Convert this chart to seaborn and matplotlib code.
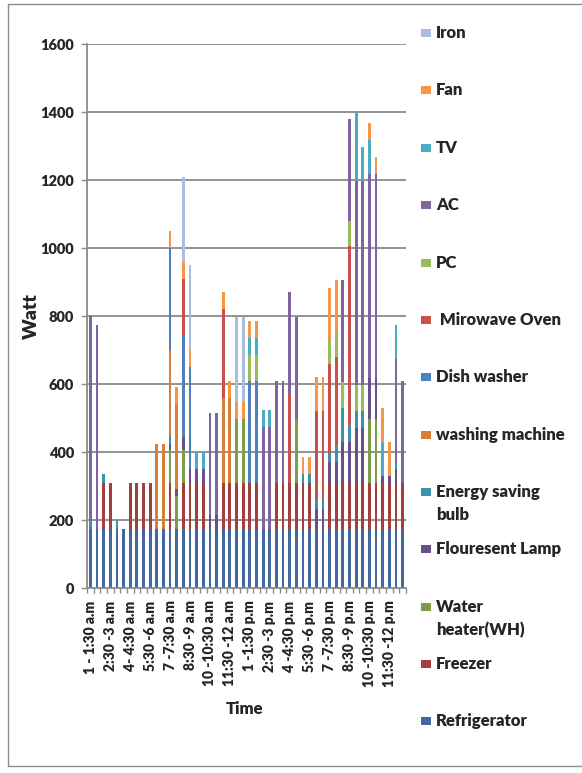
import numpy as np
import pandas as pd
import matplotlib
matplotlib.use("Agg")
import matplotlib.pyplot as plt
import seaborn as sns
from matplotlib.patches import Rectangle
from matplotlib.lines import Line2D

# ---------------- data (48 half-hour slots, Watt) ----------------
slots = list(range(48))
tick_labels = ["1 - 1:30 a.m", "2:30 -3 a.m", "4- 4:30 a.m", "5:30 -6 a.m",
               "7 -7:30 a.m", "8:30 -9 a.m", "10 -10:30 a.m", "11:30 -12 a.m",
               "1 -1:30 p.m", "2:30 -3 p.m", "4 -4:30 p.m", "5:30 -6 p.m",
               "7 -7:30 p.m", "8:30 -9 p.m", "10 -10:30 p.m", "11:30 -12 p.m"]

refrigerator = [175, 175, 175, 175, 175, 175, 175, 175, 175, 175, 175, 175,
                175, 175, 175, 175, 175, 175, 175, 175, 175, 175, 175, 175,
                175, 175, 175, 175, 175, 175, 175, 175, 175, 175, 175, 175,
                175, 175, 175, 175, 175, 175, 175, 175, 175, 175, 175, 175]
freezer = [0, 0, 135, 135, 0, 0, 135, 135, 135, 135, 0, 0,
           135, 0, 135, 135, 135, 135, 0, 0, 135, 135, 135, 135,
           135, 135, 0, 0, 135, 135, 135, 135, 135, 135, 0, 0,
           135, 135, 135, 135, 135, 135, 135, 135, 135, 135, 135, 135]
water_heater = [0, 0, 0, 0, 0, 0, 0, 0, 0, 0, 0, 0,
                95, 95, 95, 0, 0, 0, 0, 0, 0, 0, 188, 188,
                0, 0, 0, 0, 0, 0, 0, 188, 0, 0, 0, 0,
                0, 0, 0, 0, 0, 0, 188, 188, 0, 0, 0, 0]
fluorescent = [0, 0, 0, 0, 0, 0, 0, 0, 0, 0, 0, 0,
               20, 20, 40, 40, 40, 40, 40, 40, 0, 0, 0, 0,
               0, 0, 0, 0, 0, 0, 0, 0, 0, 0, 58, 58,
               60, 60, 120, 120, 160, 160, 120, 120, 20, 20, 40, 0]
energy_bulb = [25, 0, 25, 0, 25, 0, 0, 0, 0, 0, 0, 0,
               25, 0, 0, 0, 0, 0, 0, 0, 0, 0, 0, 0,
               0, 0, 0, 0, 0, 0, 0, 0, 25, 25, 25, 25,
               25, 50, 100, 50, 50, 50, 0, 0, 0, 0, 25, 0]
washing = [0, 0, 0, 0, 0, 0, 0, 0, 0, 0, 250, 250,
           250, 250, 0, 0, 0, 0, 0, 0, 250, 250, 0, 0,
           0, 0, 0, 0, 0, 0, 0, 0, 0, 0, 0, 0,
           0, 0, 0, 0, 0, 0, 0, 0, 0, 0, 0, 0]
dish_washer = [0, 0, 0, 0, 0, 0, 0, 0, 0, 0, 0, 0,
               300, 0, 300, 300, 0, 0, 0, 0, 0, 0, 0, 0,
               300, 300, 0, 0, 0, 0, 0, 0, 0, 0, 0, 0,
               0, 0, 0, 0, 0, 0, 0, 0, 0, 0, 0, 0]
microwave = [0, 0, 0, 0, 0, 0, 0, 0, 0, 0, 0, 0,
             0, 0, 165, 0, 0, 0, 0, 0, 262, 0, 0, 0,
             0, 0, 0, 0, 0, 0, 262, 0, 0, 0, 262, 262,
             263, 260, 0, 525, 0, 0, 0, 0, 0, 0, 0, 0]
pc = [0, 0, 0, 0, 0, 0, 0, 0, 0, 0, 0, 0,
      0, 0, 0, 0, 0, 0, 0, 0, 0, 0, 0, 0,
      75, 75, 0, 0, 0, 0, 0, 0, 0, 0, 0, 0,
      75, 77, 77, 75, 77, 77, 0, 0, 0, 0, 0, 0]
ac = [600, 600, 0, 0, 0, 0, 0, 0, 0, 0, 0, 0,
      0, 0, 0, 0, 0, 0, 300, 300, 0, 0, 0, 0,
      0, 0, 300, 300, 300, 300, 300, 300, 0, 0, 0, 0,
      0, 0, 300, 300, 600, 600, 600, 600, 0, 0, 300, 300]
tv = [0, 0, 0, 0, 0, 0, 0, 0, 0, 0, 0, 0,
      0, 0, 0, 0, 50, 50, 0, 0, 0, 0, 0, 0,
      50, 50, 50, 50, 0, 0, 0, 0, 0, 0, 0, 0,
      0, 0, 0, 0, 200, 100, 100, 0, 100, 0, 100, 0]
fan = [0, 0, 0, 0, 0, 0, 0, 0, 0, 0, 0, 0,
       50, 50, 50, 50, 0, 0, 0, 0, 50, 50, 50, 50,
       50, 50, 0, 0, 0, 0, 0, 0, 50, 50, 100, 100,
       150, 150, 0, 0, 0, 0, 50, 50, 100, 100, 0, 0]
iron = [0, 0, 0, 0, 0, 0, 0, 0, 0, 0, 0, 0,
        0, 0, 250, 250, 0, 0, 0, 0, 0, 0, 250, 250,
        0, 0, 0, 0, 0, 0, 0, 0, 0, 0, 0, 0,
        0, 0, 0, 0, 0, 0, 0, 0, 0, 0, 0, 0]

# stack order bottom -> top
series_names = ["Refrigerator", "Freezer", "Water\nheater(WH)", "Flouresent Lamp",
                "Energy saving\nbulb", "washing machine", "Dish washer",
                " Mirowave Oven", "PC", "AC", "TV", "Fan", "Iron"]
series_values = [refrigerator, freezer, water_heater, fluorescent, energy_bulb,
                 washing, dish_washer, microwave, pc, ac, tv, fan, iron]
series_colors = ["#41699f", "#a23f3c", "#7f9c48", "#67508c", "#3a93aa", "#d6803a",
                 "#4f81bd", "#c9504d", "#9bbb59", "#8064a2", "#4bacc6", "#f79646",
                 "#a9bede"]

# ---------------- figure ----------------
sns.set_style("white")
plt.rcParams['font.family'] = ['Lato', 'DejaVu Sans']
plt.rcParams['font.weight'] = 'heavy'
FW = 'heavy'

W, H = 582, 773
fig = plt.figure(figsize=(W / 100, H / 100), dpi=100)
L, R, T, B = 87, 406, 44, 588
ax = fig.add_axes([L / W, 1 - B / H, (R - L) / W, (B - T) / H])

df = pd.DataFrame({name: vals for name, vals in zip(series_names, series_values)})
cum = df.cumsum(axis=1)

# draw cumulative totals from top series down (overlay makes a stacked bar)
for name, col in reversed(list(zip(series_names, series_colors))):
    sns.barplot(x=slots, y=cum[name].values, color=col, saturation=1,
                width=0.42, linewidth=0, errorbar=None, ax=ax, zorder=3)

grid_c = "#8a8a8a"
ax.set_ylim(0, 1600)
ax.set_xlim(-0.5, 47.5)
ax.set_yticks(np.arange(0, 1601, 200))
for yv in np.arange(200, 1601, 200):
    ax.axhline(yv, color=grid_c, lw=1.3, zorder=1)
for s in ["top", "right"]:
    ax.spines[s].set_visible(False)
for s in ["left", "bottom"]:
    ax.spines[s].set_color(grid_c)
    ax.spines[s].set_linewidth(1.3)
    ax.spines[s].set_zorder(4)

ax.set_xticks(np.arange(0, 48, 3))
ax.set_xticklabels(tick_labels, rotation=90, fontsize=10, fontweight=FW)
ax.set_xticks(np.arange(-0.5, 48, 1), minor=True)
ax.tick_params(axis='x', which='major', length=0, pad=9)
ax.tick_params(axis='x', which='minor', length=3.5, width=1, color=grid_c, direction='out')
ax.tick_params(axis='y', which='major', length=4, width=1, color=grid_c, pad=5.5,
               labelsize=10.5, direction='out')
for lab in ax.get_yticklabels():
    lab.set_fontweight(FW)
ax.tick_params(bottom=True, left=True, which='both')
ax.set_xlabel("")
ax.set_ylabel("")

fig.text(31 / W, 1 - 316 / H, "Watt", rotation=90, ha='center', va='center',
         fontsize=14, fontweight=FW)
fig.text(245 / W, 1 - 709 / H, "Time", ha='center', va='center',
         fontsize=12, fontweight=FW)

# ---------------- legend (top -> bottom) ----------------
leg_y = [33, 90, 148, 205, 263, 320, 377, 435, 492, 549, 607, 664, 721]
for yc, name, col in zip(leg_y, reversed(series_names), reversed(series_colors)):
    fig.patches.append(Rectangle((421 / W, 1 - (yc + 4) / H), 10 / W, 8 / H,
                                 transform=fig.transFigure, facecolor=col,
                                 edgecolor='none'))
    lines = name.split("\n")
    for k, ln in enumerate(lines):
        fig.text(436 / W, 1 - (yc + 23 * k) / H, ln, ha='left', va='center',
                 fontsize=12, fontweight=FW)

# chart border
bc = "#8c8c8c"
for (x0, y0, x1, y1) in [(8, 4, 581, 4), (8, 4, 8, 766), (8, 766, 581, 766)]:
    fig.add_artist(Line2D([x0 / W, x1 / W], [1 - y0 / H, 1 - y1 / H],
                          transform=fig.transFigure, color=bc, lw=1))

fig.savefig("out.png", dpi=100)
